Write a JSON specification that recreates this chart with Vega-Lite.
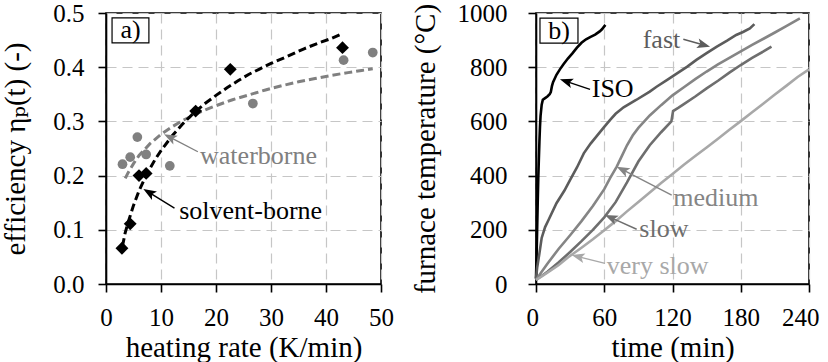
{
  "$schema": "https://vega.github.io/schema/vega-lite/v6.json",
  "background": "white",
  "autosize": {"type": "pad"},
  "padding": {"left": 0, "top": 0, "right": 0, "bottom": 0},
  "config": {
    "view": {"stroke": "#000000", "strokeWidth": 1.6},
    "axis": {
      "domainColor": "#000000", "domainWidth": 1.6,
      "tickColor": "#000000", "tickWidth": 1.6, "tickSize": 8,
      "grid": true, "gridColor": "#c6c6c6", "gridDash": [10, 6], "gridWidth": 1.2,
      "labelFont": "Liberation Serif, DejaVu Serif, serif", "labelFontSize": 25, "labelColor": "#000000",
      "labelFlush": false, "labelOverlap": false,
      "titleFont": "Liberation Serif, DejaVu Serif, serif", "titleFontSize": 29, "titleFontWeight": "normal", "titleColor": "#000000"
    },
    "text": {"font": "Liberation Serif, DejaVu Serif, serif", "fontSize": 26}
  },
  "datasets": {
    "effPoints": [
      {"coating": "solvent-borne", "rate": 2.9, "eff": 0.066},
      {"coating": "solvent-borne", "rate": 4.4, "eff": 0.111},
      {"coating": "solvent-borne", "rate": 6.0, "eff": 0.200},
      {"coating": "solvent-borne", "rate": 7.3, "eff": 0.204},
      {"coating": "solvent-borne", "rate": 16.3, "eff": 0.319},
      {"coating": "solvent-borne", "rate": 22.6, "eff": 0.396},
      {"coating": "solvent-borne", "rate": 43.0, "eff": 0.436},
      {"coating": "waterborne", "rate": 3.0, "eff": 0.221},
      {"coating": "waterborne", "rate": 4.4, "eff": 0.234},
      {"coating": "waterborne", "rate": 5.7, "eff": 0.271},
      {"coating": "waterborne", "rate": 7.3, "eff": 0.239},
      {"coating": "waterborne", "rate": 11.6, "eff": 0.218},
      {"coating": "waterborne", "rate": 26.7, "eff": 0.333},
      {"coating": "waterborne", "rate": 43.2, "eff": 0.413},
      {"coating": "waterborne", "rate": 48.5, "eff": 0.427}
    ],
    "effFits": [
      {"coating": "solvent-borne", "rate": 3.0, "eff": 0.070},
      {"coating": "solvent-borne", "rate": 3.5, "eff": 0.095},
      {"coating": "solvent-borne", "rate": 4.0, "eff": 0.113},
      {"coating": "solvent-borne", "rate": 5.0, "eff": 0.145},
      {"coating": "solvent-borne", "rate": 6.0, "eff": 0.172},
      {"coating": "solvent-borne", "rate": 7.0, "eff": 0.194},
      {"coating": "solvent-borne", "rate": 8.0, "eff": 0.213},
      {"coating": "solvent-borne", "rate": 9.0, "eff": 0.231},
      {"coating": "solvent-borne", "rate": 10.0, "eff": 0.246},
      {"coating": "solvent-borne", "rate": 12.0, "eff": 0.273},
      {"coating": "solvent-borne", "rate": 14.0, "eff": 0.296},
      {"coating": "solvent-borne", "rate": 16.0, "eff": 0.316},
      {"coating": "solvent-borne", "rate": 18.0, "eff": 0.333},
      {"coating": "solvent-borne", "rate": 20.0, "eff": 0.348},
      {"coating": "solvent-borne", "rate": 22.0, "eff": 0.362},
      {"coating": "solvent-borne", "rate": 24.0, "eff": 0.375},
      {"coating": "solvent-borne", "rate": 26.0, "eff": 0.387},
      {"coating": "solvent-borne", "rate": 28.0, "eff": 0.397},
      {"coating": "solvent-borne", "rate": 30.0, "eff": 0.407},
      {"coating": "solvent-borne", "rate": 33.0, "eff": 0.420},
      {"coating": "solvent-borne", "rate": 36.0, "eff": 0.434},
      {"coating": "solvent-borne", "rate": 39.0, "eff": 0.446},
      {"coating": "solvent-borne", "rate": 41.0, "eff": 0.453},
      {"coating": "solvent-borne", "rate": 43.0, "eff": 0.462},
      {"coating": "waterborne", "rate": 3.5, "eff": 0.195},
      {"coating": "waterborne", "rate": 4.0, "eff": 0.205},
      {"coating": "waterborne", "rate": 5.0, "eff": 0.222},
      {"coating": "waterborne", "rate": 6.0, "eff": 0.237},
      {"coating": "waterborne", "rate": 7.0, "eff": 0.248},
      {"coating": "waterborne", "rate": 8.0, "eff": 0.259},
      {"coating": "waterborne", "rate": 10.0, "eff": 0.276},
      {"coating": "waterborne", "rate": 12.0, "eff": 0.290},
      {"coating": "waterborne", "rate": 14.0, "eff": 0.302},
      {"coating": "waterborne", "rate": 16.0, "eff": 0.312},
      {"coating": "waterborne", "rate": 18.0, "eff": 0.321},
      {"coating": "waterborne", "rate": 20.0, "eff": 0.329},
      {"coating": "waterborne", "rate": 23.0, "eff": 0.340},
      {"coating": "waterborne", "rate": 26.0, "eff": 0.349},
      {"coating": "waterborne", "rate": 29.0, "eff": 0.358},
      {"coating": "waterborne", "rate": 32.0, "eff": 0.366},
      {"coating": "waterborne", "rate": 35.0, "eff": 0.373},
      {"coating": "waterborne", "rate": 38.0, "eff": 0.379},
      {"coating": "waterborne", "rate": 41.0, "eff": 0.385},
      {"coating": "waterborne", "rate": 44.0, "eff": 0.390},
      {"coating": "waterborne", "rate": 46.5, "eff": 0.394},
      {"coating": "waterborne", "rate": 48.5, "eff": 0.397}
    ],
    "effArrows": [
      {"coating": "waterborne", "rate": 11.6, "eff": 0.271, "rate2": 16.7, "eff2": 0.244},
      {"coating": "solvent-borne", "rate": 7.8, "eff": 0.169, "rate2": 12.45, "eff2": 0.140}
    ],
    "effNotes": [
      {"coating": "waterborne", "rate": 17.1, "eff": 0.237},
      {"coating": "solvent-borne", "rate": 13.3, "eff": 0.135}
    ],
    "effTagBox": [{"rate": 1.1, "eff": 0.491, "rate2": 7.8, "eff2": 0.445}],
    "effTag": [{"rate": 4.45, "eff": 0.468, "tag": "a)"}],
    "furnace": [
      {"curve": "ISO", "time": 0, "temp": 20}, {"curve": "ISO", "time": 0.5, "temp": 100},
      {"curve": "ISO", "time": 1, "temp": 200}, {"curve": "ISO", "time": 1.5, "temp": 300},
      {"curve": "ISO", "time": 2, "temp": 390}, {"curve": "ISO", "time": 2.5, "temp": 460},
      {"curve": "ISO", "time": 3, "temp": 525}, {"curve": "ISO", "time": 3.5, "temp": 580},
      {"curve": "ISO", "time": 4, "temp": 620}, {"curve": "ISO", "time": 5, "temp": 662},
      {"curve": "ISO", "time": 6, "temp": 680}, {"curve": "ISO", "time": 8, "temp": 686},
      {"curve": "ISO", "time": 10, "temp": 692}, {"curve": "ISO", "time": 12, "temp": 700},
      {"curve": "ISO", "time": 13, "temp": 708}, {"curve": "ISO", "time": 14, "temp": 730},
      {"curve": "ISO", "time": 15, "temp": 745}, {"curve": "ISO", "time": 18, "temp": 772},
      {"curve": "ISO", "time": 21, "temp": 792}, {"curve": "ISO", "time": 24, "temp": 810},
      {"curve": "ISO", "time": 28, "temp": 832}, {"curve": "ISO", "time": 32, "temp": 851},
      {"curve": "ISO", "time": 36, "temp": 872}, {"curve": "ISO", "time": 40, "temp": 890},
      {"curve": "ISO", "time": 44, "temp": 903}, {"curve": "ISO", "time": 48, "temp": 912},
      {"curve": "ISO", "time": 52, "temp": 920}, {"curve": "ISO", "time": 56, "temp": 932},
      {"curve": "ISO", "time": 58, "temp": 940}, {"curve": "ISO", "time": 61, "temp": 956},
      {"curve": "fast", "time": 0, "temp": 20}, {"curve": "fast", "time": 1, "temp": 60},
      {"curve": "fast", "time": 3, "temp": 113}, {"curve": "fast", "time": 5, "temp": 170},
      {"curve": "fast", "time": 8, "temp": 210}, {"curve": "fast", "time": 11, "temp": 236},
      {"curve": "fast", "time": 18, "temp": 298}, {"curve": "fast", "time": 25, "temp": 345},
      {"curve": "fast", "time": 30, "temp": 384}, {"curve": "fast", "time": 36, "temp": 430},
      {"curve": "fast", "time": 42, "temp": 482}, {"curve": "fast", "time": 48, "temp": 518},
      {"curve": "fast", "time": 53, "temp": 544}, {"curve": "fast", "time": 60, "temp": 580},
      {"curve": "fast", "time": 65, "temp": 605}, {"curve": "fast", "time": 70, "temp": 628},
      {"curve": "fast", "time": 77, "temp": 652}, {"curve": "fast", "time": 88, "temp": 679},
      {"curve": "fast", "time": 100, "temp": 710}, {"curve": "fast", "time": 106, "temp": 728},
      {"curve": "fast", "time": 115, "temp": 752}, {"curve": "fast", "time": 124, "temp": 777},
      {"curve": "fast", "time": 133, "temp": 802}, {"curve": "fast", "time": 141, "temp": 827},
      {"curve": "fast", "time": 150, "temp": 852}, {"curve": "fast", "time": 159, "temp": 876},
      {"curve": "fast", "time": 168, "temp": 898}, {"curve": "fast", "time": 176, "temp": 919},
      {"curve": "fast", "time": 182, "temp": 930}, {"curve": "fast", "time": 188, "temp": 943},
      {"curve": "fast", "time": 192, "temp": 959},
      {"curve": "medium", "time": 0, "temp": 15}, {"curve": "medium", "time": 5, "temp": 45},
      {"curve": "medium", "time": 10, "temp": 75}, {"curve": "medium", "time": 20, "temp": 130},
      {"curve": "medium", "time": 30, "temp": 180}, {"curve": "medium", "time": 40, "temp": 232},
      {"curve": "medium", "time": 50, "temp": 288}, {"curve": "medium", "time": 60, "temp": 350},
      {"curve": "medium", "time": 65, "temp": 390}, {"curve": "medium", "time": 71, "temp": 433},
      {"curve": "medium", "time": 75, "temp": 468}, {"curve": "medium", "time": 80, "temp": 512},
      {"curve": "medium", "time": 85, "temp": 548}, {"curve": "medium", "time": 90, "temp": 576},
      {"curve": "medium", "time": 100, "temp": 622}, {"curve": "medium", "time": 110, "temp": 660},
      {"curve": "medium", "time": 120, "temp": 696}, {"curve": "medium", "time": 130, "temp": 726},
      {"curve": "medium", "time": 140, "temp": 756}, {"curve": "medium", "time": 150, "temp": 784},
      {"curve": "medium", "time": 160, "temp": 810}, {"curve": "medium", "time": 170, "temp": 834},
      {"curve": "medium", "time": 180, "temp": 858}, {"curve": "medium", "time": 190, "temp": 882},
      {"curve": "medium", "time": 200, "temp": 905}, {"curve": "medium", "time": 210, "temp": 928},
      {"curve": "medium", "time": 220, "temp": 952}, {"curve": "medium", "time": 232, "temp": 980},
      {"curve": "slow", "time": 0, "temp": 15}, {"curve": "slow", "time": 10, "temp": 45},
      {"curve": "slow", "time": 20, "temp": 80}, {"curve": "slow", "time": 30, "temp": 118},
      {"curve": "slow", "time": 40, "temp": 158}, {"curve": "slow", "time": 50, "temp": 200},
      {"curve": "slow", "time": 60, "temp": 246}, {"curve": "slow", "time": 70, "temp": 302},
      {"curve": "slow", "time": 80, "temp": 375}, {"curve": "slow", "time": 90, "temp": 452},
      {"curve": "slow", "time": 100, "temp": 512}, {"curve": "slow", "time": 110, "temp": 560},
      {"curve": "slow", "time": 119, "temp": 600}, {"curve": "slow", "time": 120.5, "temp": 638},
      {"curve": "slow", "time": 125, "temp": 650}, {"curve": "slow", "time": 130, "temp": 664},
      {"curve": "slow", "time": 140, "temp": 692}, {"curve": "slow", "time": 150, "temp": 722},
      {"curve": "slow", "time": 160, "temp": 750}, {"curve": "slow", "time": 170, "temp": 780},
      {"curve": "slow", "time": 180, "temp": 808}, {"curve": "slow", "time": 190, "temp": 834},
      {"curve": "slow", "time": 200, "temp": 858}, {"curve": "slow", "time": 207, "temp": 876},
      {"curve": "very slow", "time": 0, "temp": 15}, {"curve": "very slow", "time": 5, "temp": 28},
      {"curve": "very slow", "time": 10, "temp": 42}, {"curve": "very slow", "time": 20, "temp": 70},
      {"curve": "very slow", "time": 28, "temp": 98}, {"curve": "very slow", "time": 32, "temp": 110},
      {"curve": "very slow", "time": 40, "temp": 134}, {"curve": "very slow", "time": 50, "temp": 165},
      {"curve": "very slow", "time": 60, "temp": 198}, {"curve": "very slow", "time": 70, "temp": 232},
      {"curve": "very slow", "time": 80, "temp": 268}, {"curve": "very slow", "time": 90, "temp": 303},
      {"curve": "very slow", "time": 100, "temp": 338}, {"curve": "very slow", "time": 110, "temp": 373},
      {"curve": "very slow", "time": 120, "temp": 406}, {"curve": "very slow", "time": 130, "temp": 440},
      {"curve": "very slow", "time": 140, "temp": 472}, {"curve": "very slow", "time": 150, "temp": 504},
      {"curve": "very slow", "time": 160, "temp": 536}, {"curve": "very slow", "time": 170, "temp": 569},
      {"curve": "very slow", "time": 180, "temp": 601}, {"curve": "very slow", "time": 190, "temp": 634},
      {"curve": "very slow", "time": 200, "temp": 666}, {"curve": "very slow", "time": 210, "temp": 699},
      {"curve": "very slow", "time": 220, "temp": 731}, {"curve": "very slow", "time": 230, "temp": 764},
      {"curve": "very slow", "time": 240, "temp": 792}
    ],
    "furnaceArrows": [
      {"curve": "ISO", "time": 26.5, "temp": 748, "time2": 47.5, "temp2": 718},
      {"curve": "fast", "time": 147.5, "temp": 882, "time2": 129.5, "temp2": 903},
      {"curve": "medium", "time": 76.0, "temp": 422, "time2": 119.3, "temp2": 328},
      {"curve": "slow", "time": 65.8, "temp": 245, "time2": 88.5, "temp2": 202},
      {"curve": "very slow", "time": 36.9, "temp": 101, "time2": 60.7, "temp2": 76}
    ],
    "furnaceNotes": [
      {"curve": "ISO", "time": 49.0, "temp": 718},
      {"curve": "fast", "time": 93.8, "temp": 900},
      {"curve": "medium", "time": 120.7, "temp": 316},
      {"curve": "slow", "time": 90.8, "temp": 202},
      {"curve": "very slow", "time": 62.2, "temp": 68}
    ],
    "furnaceTagBox": [{"time": 3.5, "temp": 981, "time2": 36.9, "temp2": 889}],
    "furnaceTag": [{"time": 20.2, "temp": 935, "tag": "b)"}]
  },
  "bounds": "flush",
  "spacing": 155,
  "resolve": {"scale": {"color": "independent"}},
  "hconcat": [
    {
      "width": 275,
      "height": 271,
      "encoding": {
        "x": {
          "field": "rate", "type": "quantitative",
          "scale": {"domain": [0, 50], "nice": false, "zero": false},
          "axis": {"values": [0, 10, 20, 30, 40, 50], "title": "heating rate (K/min)", "labelPadding": 13, "titlePadding": 3}
        },
        "y": {
          "field": "eff", "type": "quantitative",
          "scale": {"domain": [0, 0.5], "nice": false},
          "axis": {"values": [0, 0.1, 0.2, 0.3, 0.4, 0.5], "format": ".1f", "title": "efficiency ηₚ(t) (-)", "labelPadding": 14, "titlePadding": 22}
        }
      },
      "layer": [
        {
          "data": {"name": "effFits"},
          "transform": [{"filter": "datum.coating == 'waterborne'"}],
          "mark": {"type": "line", "color": "#808080", "strokeWidth": 3, "strokeDash": [8, 4]}
        },
        {
          "data": {"name": "effFits"},
          "transform": [{"filter": "datum.coating == 'solvent-borne'"}],
          "mark": {"type": "line", "color": "#000000", "strokeWidth": 3, "strokeDash": [8, 4]}
        },
        {
          "data": {"name": "effPoints"},
          "transform": [{"filter": "datum.coating == 'waterborne'"}],
          "mark": {"type": "point", "shape": "circle", "filled": true, "size": 95, "color": "#808080", "opacity": 1}
        },
        {
          "data": {"name": "effPoints"},
          "transform": [{"filter": "datum.coating == 'solvent-borne'"}],
          "mark": {"type": "point", "shape": "diamond", "filled": true, "size": 165, "color": "#000000", "opacity": 1}
        },
        {
          "data": {"name": "effArrows"},
          "mark": {"type": "rule", "strokeWidth": 1.4},
          "encoding": {
            "x2": {"field": "rate2"}, "y2": {"field": "eff2"},
            "color": {"field": "coating", "type": "nominal", "scale": {"domain": ["solvent-borne", "waterborne"], "range": ["#000000", "#808080"]}, "legend": null}
          }
        },
        {
          "data": {"name": "effArrows"},
          "transform": [{"filter": "datum.coating == 'waterborne'"}],
          "mark": {"type": "point", "shape": "M0,-1L0.75,1L0,0.55L-0.75,1Z", "filled": true, "size": 169, "angle": 297, "color": "#808080", "opacity": 1}
        },
        {
          "data": {"name": "effArrows"},
          "transform": [{"filter": "datum.coating == 'solvent-borne'"}],
          "mark": {"type": "point", "shape": "M0,-1L0.75,1L0,0.55L-0.75,1Z", "filled": true, "size": 169, "angle": 301, "color": "#000000", "opacity": 1}
        },
        {
          "data": {"name": "effNotes"},
          "mark": {"type": "text", "align": "left", "baseline": "middle", "fontSize": 26},
          "encoding": {
            "text": {"field": "coating"},
            "color": {"field": "coating", "type": "nominal", "scale": {"domain": ["solvent-borne", "waterborne"], "range": ["#000000", "#808080"]}, "legend": null}
          }
        },
        {
          "data": {"name": "effTagBox"},
          "mark": {"type": "rect", "fill": "#ffffff", "stroke": "#000000", "strokeWidth": 1.2},
          "encoding": {"x2": {"field": "rate2"}, "y2": {"field": "eff2"}}
        },
        {
          "data": {"name": "effTag"},
          "mark": {"type": "text", "align": "center", "baseline": "middle", "fontSize": 26, "color": "#000000"},
          "encoding": {"text": {"field": "tag"}}
        }
      ]
    },
    {
      "width": 273,
      "height": 271,
      "encoding": {
        "x": {
          "field": "time", "type": "quantitative",
          "scale": {"domain": [0, 240], "nice": false},
          "axis": {"values": [0, 60, 120, 180, 240], "title": "time (min)", "labelPadding": 13, "titlePadding": 3, "labelFlush": true, "labelFlushOffset": 10}
        },
        "y": {
          "field": "temp", "type": "quantitative",
          "scale": {"domain": [0, 1000], "nice": false},
          "axis": {"values": [0, 200, 400, 600, 800, 1000], "format": "d", "title": "furnace temperature (°C)", "labelPadding": 21, "titlePadding": 17}
        }
      },
      "layer": [
        {
          "data": {"name": "furnace"},
          "mark": {"type": "line", "strokeWidth": 2.6},
          "encoding": {
            "color": {
              "field": "curve", "type": "nominal",
              "scale": {"domain": ["ISO", "fast", "medium", "slow", "very slow"], "range": ["#000000", "#5c5c5c", "#858585", "#6e6e6e", "#a8a8a8"]},
              "legend": null
            }
          }
        },
        {
          "data": {"name": "furnaceArrows"},
          "mark": {"type": "rule", "strokeWidth": 1.4},
          "encoding": {"x2": {"field": "time2"}, "y2": {"field": "temp2"}, "color": {"field": "curve", "type": "nominal", "legend": null}}
        },
        {
          "data": {"name": "furnaceArrows"},
          "transform": [{"filter": "datum.curve == 'ISO'"}],
          "mark": {"type": "point", "shape": "M0,-1L0.75,1L0,0.55L-0.75,1Z", "filled": true, "size": 169, "angle": 288, "opacity": 1},
          "encoding": {"color": {"field": "curve", "type": "nominal", "legend": null}}
        },
        {
          "data": {"name": "furnaceArrows"},
          "transform": [{"filter": "datum.curve == 'fast'"}],
          "mark": {"type": "point", "shape": "M0,-1L0.75,1L0,0.55L-0.75,1Z", "filled": true, "size": 169, "angle": 105, "opacity": 1},
          "encoding": {"color": {"field": "curve", "type": "nominal", "legend": null}}
        },
        {
          "data": {"name": "furnaceArrows"},
          "transform": [{"filter": "datum.curve == 'medium'"}],
          "mark": {"type": "point", "shape": "M0,-1L0.75,1L0,0.55L-0.75,1Z", "filled": true, "size": 169, "angle": 297, "opacity": 1},
          "encoding": {"color": {"field": "curve", "type": "nominal", "legend": null}}
        },
        {
          "data": {"name": "furnaceArrows"},
          "transform": [{"filter": "datum.curve == 'slow'"}],
          "mark": {"type": "point", "shape": "M0,-1L0.75,1L0,0.55L-0.75,1Z", "filled": true, "size": 169, "angle": 294, "opacity": 1},
          "encoding": {"color": {"field": "curve", "type": "nominal", "legend": null}}
        },
        {
          "data": {"name": "furnaceArrows"},
          "transform": [{"filter": "datum.curve == 'very slow'"}],
          "mark": {"type": "point", "shape": "M0,-1L0.75,1L0,0.55L-0.75,1Z", "filled": true, "size": 169, "angle": 284, "opacity": 1},
          "encoding": {"color": {"field": "curve", "type": "nominal", "legend": null}}
        },
        {
          "data": {"name": "furnaceNotes"},
          "mark": {"type": "text", "align": "left", "baseline": "middle", "fontSize": 26},
          "encoding": {"text": {"field": "curve"}, "color": {"field": "curve", "type": "nominal", "legend": null}}
        },
        {
          "data": {"name": "furnaceTagBox"},
          "mark": {"type": "rect", "fill": "#ffffff", "stroke": "#000000", "strokeWidth": 1.2},
          "encoding": {"x2": {"field": "time2"}, "y2": {"field": "temp2"}}
        },
        {
          "data": {"name": "furnaceTag"},
          "mark": {"type": "text", "align": "center", "baseline": "middle", "fontSize": 26, "color": "#000000"},
          "encoding": {"text": {"field": "tag"}}
        }
      ]
    }
  ]
}
